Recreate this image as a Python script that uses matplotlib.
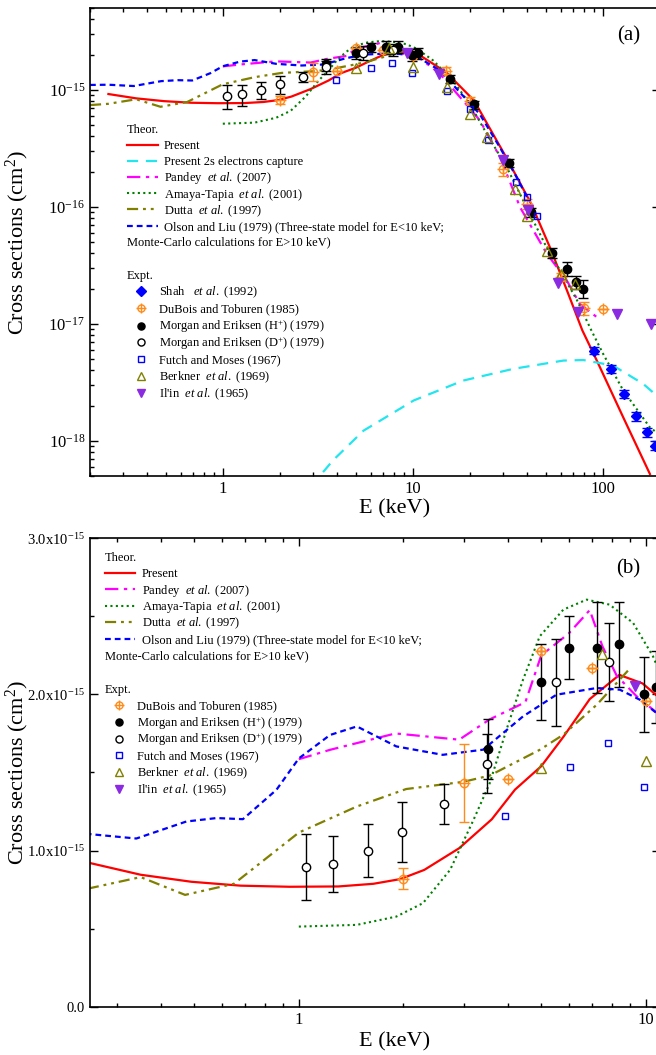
import numpy as np
import matplotlib
matplotlib.use('Agg')
import matplotlib.pyplot as plt
from matplotlib.ticker import MultipleLocator, FuncFormatter, NullFormatter

plt.rcParams['font.family'] = 'Liberation Serif'
plt.rcParams['mathtext.fontset'] = 'custom'
plt.rcParams['mathtext.rm'] = 'Liberation Serif'
plt.rcParams['mathtext.it'] = 'Liberation Serif:italic'
plt.rcParams['mathtext.bf'] = 'Liberation Serif:bold'

U = 1e-15  # cross sections below are in units of 1e-15 cm2

# theory (E in keV)
E_present = [0.25, 0.35, 0.49, 0.68, 0.94, 1.3, 1.64, 1.96, 2.3, 2.9, 3.6, 4.2, 5.0, 5.8, 6.9,
             8.4, 9.8, 10.8, 15, 21, 31, 42, 53, 65, 78, 93, 128, 177]
s_present = [0.92, 0.845, 0.80, 0.775, 0.768, 0.77, 0.787, 0.817, 0.876, 1.015, 1.2, 1.39, 1.54,
             1.73, 1.97, 2.125, 2.07, 1.99, 1.41, 0.81, 0.265, 0.106, 0.044, 0.019, 0.0088,
             0.00485, 0.00159, 0.00052]

E_2s = [3.37, 3.8, 5.5, 10.1, 18.4, 33.8, 62, 79, 113, 163, 200]
s_2s = [0.00054, 0.00068, 0.00122, 0.00221, 0.00327, 0.00412, 0.00485, 0.0049, 0.0044, 0.00307, 0.0023]

E_pandey = [1.0, 1.23, 1.9, 2.9, 3.55, 4.5, 5.0, 6.0, 6.9, 7.5, 8.25, 9.4, 10.8, 13.9, 22.5, 28.8,
            36.7, 50.6, 64.6, 75.6, 93]
s_pandey = [1.585, 1.645, 1.75, 1.71, 1.84, 1.95, 2.25, 2.39, 2.54, 2.31, 2.12, 1.99, 1.88, 1.37,
            0.55, 0.265, 0.099, 0.040, 0.0235, 0.0148, 0.0114]

E_amaya = [1.0, 1.47, 1.91, 2.28, 2.73, 3.19, 3.55, 3.97, 4.43, 4.95, 5.79, 6.76, 7.87, 9.2, 10.5,
           12.8, 16.4, 20, 24.5, 31.2, 39.7, 50.6, 60, 73, 87, 100, 128, 177, 200]
s_amaya = [0.513, 0.524, 0.577, 0.663, 0.876, 1.197, 1.43, 1.774, 2.094, 2.372, 2.543, 2.607, 2.575,
           2.458, 2.244, 1.78, 1.18, 0.75, 0.42, 0.218, 0.099, 0.045, 0.028, 0.016, 0.0088, 0.0056,
           0.0027, 0.0013, 0.00112]

E_dutta = [0.2, 0.25, 0.35, 0.47, 0.65, 1.0, 1.47, 2.04, 2.98, 3.55, 4.96, 5.79, 7.23, 9.0]
s_dutta = [0.74, 0.759, 0.83, 0.716, 0.787, 1.115, 1.282, 1.394, 1.44, 1.48, 1.646, 1.742, 1.934, 2.165]

E_olson = [0.2, 0.25, 0.34, 0.474, 0.579, 0.69, 0.862, 1.0, 1.23, 1.47, 1.91, 2.6, 3.4, 4.43, 5.53,
           7.23, 8.43, 9.62, 10.76, 13.9, 22.5, 28.8, 35.2, 40]
s_olson = [1.10, 1.105, 1.077, 1.186, 1.208, 1.201, 1.389, 1.59, 1.74, 1.795, 1.667, 1.613, 1.646,
           1.859, 1.998, 2.041, 2.03, 1.966, 1.88, 1.46, 0.62, 0.32, 0.179, 0.12]

# experiments
E_shah = [89.5, 110, 129, 150, 170, 188]
s_shah = [0.0059, 0.00412, 0.00251, 0.00162, 0.00118, 0.00091]
e_shah = [0.0004, 0.0003, 0.0002, 0.00013, 0.0001, 0.00008]

E_dubois = [2, 3, 4, 5, 7, 10, 15, 20, 30, 40, 60, 80, 100]
s_dubois = [0.82, 1.43, 1.46, 2.28, 2.17, 1.96, 1.46, 0.81, 0.21, 0.106, 0.025, 0.0137, 0.0134]
e_dubois = [0.067, 0.25, 0, 0, 0, 0, 0.1, 0.05, 0.025, 0.01, 0.002, 0.0018, 0]

E_morH = [3.5, 5.0, 6.0, 7.25, 8.4, 9.9, 10.7, 15.6, 21, 32, 42, 54, 65, 72, 79]
s_morH = [1.65, 2.08, 2.30, 2.30, 2.32, 2.00, 2.05, 1.24, 0.75, 0.238, 0.090, 0.0405, 0.0295,
          0.0227, 0.020]
e_morH = [0.19, 0.245, 0.2, 0.29, 0.27, 0.24, 0.23, 0.1, 0.06, 0.02, 0.008, 0.004, 0.004, 0.003, 0.0035]

E_morD = [1.05, 1.256, 1.585, 1.99, 2.63, 3.48, 5.5, 7.82]
s_morD = [0.893, 0.913, 1.0, 1.118, 1.297, 1.556, 2.077, 2.205]
e_morD = [0.21, 0.18, 0.17, 0.19, 0.13, 0.19, 0.28, 0.25]

E_futch = [3.92, 6.05, 7.8, 9.9, 15.1, 20, 25, 34.9, 40, 45]
s_futch = [1.222, 1.532, 1.688, 1.404, 0.97, 0.69, 0.37, 0.162, 0.122, 0.083]

E_berk = [5.0, 7.5, 10.0, 15.1, 20, 24.7, 34.5, 39.7, 50.6, 60, 71.4]
s_berk = [1.528, 2.259, 1.571, 1.05, 0.62, 0.394, 0.143, 0.084, 0.0417, 0.0267, 0.0217]

E_ilin = [9.33, 13.7, 30, 40.6, 58.3, 73.8, 119, 180]
s_ilin = [2.056, 1.37, 0.249, 0.093, 0.0222, 0.0126, 0.0122, 0.0099]

lab_theory = {
    'Present': 'Present',
    '2s': 'Present 2s electrons capture',
    'pandey': r'Pandey  $\it{et\ al.}$ (2007)',
    'amaya': r'Amaya-Tapia  $\it{et\ al.}$ (2001)',
    'dutta': r'Dutta  $\it{et\ al.}$ (1997)',
    'olson': 'Olson and Liu (1979) (Three-state model for E<10 keV;',
}
lab_expt = {
    'shah': r'Shah   $\it{et\ al.}$ (1992)',
    'dubois': 'DuBois and Toburen (1985)',
    'morH': r'Morgan and Eriksen (H$^{+}$) (1979)',
    'morD': r'Morgan and Eriksen (D$^{+}$) (1979)',
    'futch': 'Futch and Moses (1967)',
    'berk': r'Berkner  $\it{et\ al.}$ (1969)',
    'ilin': r"Il'in  $\it{et\ al.}$ (1965)",
}


def arr(v):
    return np.array(v) * U


def theory(ax, with_2s):
    h = {}
    h['Present'] = ax.plot(E_present, arr(s_present), color='red', lw=1.6)[0]
    if with_2s:
        h['2s'] = ax.plot(E_2s, arr(s_2s), color='#22e5ee', lw=1.6, ls=(0, (5, 3.5)))[0]
    h['pandey'] = ax.plot(E_pandey, arr(s_pandey), color='magenta', lw=1.6, ls=(0, (6, 2.5, 1.5, 2.5)))[0]
    h['amaya'] = ax.plot(E_amaya, arr(s_amaya), color='green', lw=1.5, ls=(0, (1, 1.6)))[0]
    h['dutta'] = ax.plot(E_dutta, arr(s_dutta), color='#808000', lw=1.6,
                         ls=(0, (5, 2.2, 1.3, 2.2, 1.3, 2.2)))[0]
    h['olson'] = ax.plot(E_olson, arr(s_olson), color='blue', lw=1.6, ls=(0, (2.6, 1.8)))[0]
    return h


def expt(ax, with_shah):
    h = {}
    eb = dict(fmt='none', elinewidth=1, capsize=3.5, capthick=1)
    if with_shah:
        ax.errorbar(E_shah, arr(s_shah), yerr=arr(e_shah), ecolor='blue', **eb)
        h['shah'] = ax.plot(E_shah, arr(s_shah), 'D', color='blue', ms=5.5, ls='none')[0]
    ax.errorbar(E_morH, arr(s_morH), yerr=arr(e_morH), ecolor='black', **eb)
    ax.errorbar(E_morD, arr(s_morD), yerr=arr(e_morD), ecolor='black', **eb)
    ax.errorbar(E_dubois, arr(s_dubois), yerr=arr(e_dubois), ecolor='#ff8c1a', **eb)
    d1 = ax.plot(E_dubois, arr(s_dubois), 'o', mec='#ff8c1a', mfc='none', mew=1, ms=6, ls='none')[0]
    d2 = ax.plot(E_dubois, arr(s_dubois), '+', color='#ff8c1a', mew=1, ms=8, ls='none')[0]
    h['dubois'] = (d1, d2)
    h['morH'] = ax.plot(E_morH, arr(s_morH), 'o', color='black', ms=6, ls='none')[0]
    h['morD'] = ax.plot(E_morD, arr(s_morD), 'o', mec='black', mfc='white', mew=1, ms=6, ls='none')[0]
    h['futch'] = ax.plot(E_futch, arr(s_futch), 's', mec='blue', mfc='none', mew=1, ms=5, ls='none')[0]
    h['berk'] = ax.plot(E_berk, arr(s_berk), '^', mec='#808000', mfc='none', mew=1, ms=6.5, ls='none')[0]
    h['ilin'] = ax.plot(E_ilin, arr(s_ilin), 'v', color='#8a2be2', ms=6.5, ls='none')[0]
    return h


def style(ax):
    ax.tick_params(which='both', direction='in', top=True, right=True, labelsize=12)
    ax.tick_params(which='major', length=6, width=1)
    ax.tick_params(which='minor', length=3, width=1)
    for s in ax.spines.values():
        s.set_linewidth(1.2)
    ax.xaxis.set_major_formatter(FuncFormatter(lambda v, p: f'{v:g}'))
    ax.xaxis.set_minor_formatter(NullFormatter())
    ax.yaxis.set_minor_formatter(NullFormatter())
    ax.set_xlabel('E (keV)', fontsize=16)
    ax.set_ylabel('Cross sections (cm$^2$)', fontsize=16)
    ax.yaxis.set_label_coords(-0.103, 0.5)


def legend_block(ax, title, handles, keys, labels, x, y_title, y0, pitch, **kw):
    # one legend per row so that mathtext labels do not change the row pitch
    ax.text(x, y_title, title, transform=ax.transAxes, fontsize=9, va='center')
    for i, k in enumerate(keys):
        leg = ax.legend([handles[k]], [labels[k]], loc='center left',
                        bbox_to_anchor=(x, y0 - i * pitch), frameon=False, fontsize=9,
                        borderpad=0, borderaxespad=0, **kw)
        ax.add_artist(leg)
    ax.legend_ = None  # already added as artist, avoid drawing the last one twice


th_kw = dict(handlelength=2.45, handletextpad=0.5)
ex_kw = dict(handlelength=2.3, handletextpad=0.25, markerscale=0.85)

fig = plt.figure(figsize=(6.56, 10.55), dpi=100)

# (a) log-log
ax = fig.add_axes([0.1372, 0.5488, 0.8689, 0.4436])
ax.set_xscale('log')
ax.set_yscale('log')
th = theory(ax, True)
ex = expt(ax, True)
ax.set_xlim(0.2, 200)
ax.set_ylim(5e-19, 5e-15)
ax.set_xticks([1, 10, 100])
ax.set_yticks([1e-18, 1e-17, 1e-16, 1e-15])
style(ax)
ax.xaxis.set_label_coords(0.535, -0.05)
ax.text(0.945, 0.94, '(a)', transform=ax.transAxes, fontsize=15, ha='center', va='center')

legend_block(ax, 'Theor.', th, ['Present', '2s', 'pandey', 'amaya', 'dutta', 'olson'], lab_theory,
             0.065, 0.7393, 0.7051, 0.03462, **th_kw)
ax.text(0.065, 0.4985, 'Monte-Carlo calculations for E>10 keV)', transform=ax.transAxes,
        fontsize=9, va='center')
legend_block(ax, 'Expt.', ex, ['shah', 'dubois', 'morH', 'morD', 'futch', 'berk', 'ilin'], lab_expt,
             0.065, 0.4274, 0.3917, 0.0361, **ex_kw)

# (b) log-linear
ax = fig.add_axes([0.1372, 0.0458, 0.8689, 0.444])
ax.set_xscale('log')
th = theory(ax, False)
ex = expt(ax, False)
ax.set_xlim(0.25, 11)
ax.set_ylim(0, 3e-15)
ax.set_xticks([1, 10])
ax.set_yticks([0, 1e-15, 2e-15, 3e-15])
ax.yaxis.set_minor_locator(MultipleLocator(0.5e-15))
style(ax)
ax.tick_params(axis='y', labelsize=10.5)
ax.yaxis.set_major_formatter(FuncFormatter(
    lambda v, p: '0.0' if v == 0 else f'{v / U:.1f}x10$^{{-15}}$'))
ax.xaxis.set_label_coords(0.535, -0.055)
ax.text(0.945, 0.935, '(b)', transform=ax.transAxes, fontsize=15, ha='center', va='center')

legend_block(ax, 'Theor.', th, ['Present', 'pandey', 'amaya', 'dutta', 'olson'], lab_theory,
             0.026, 0.9586, 0.9231, 0.0351, **th_kw)
ax.text(0.026, 0.7472, 'Monte-Carlo calculations for E>10 keV)', transform=ax.transAxes,
        fontsize=9, va='center')
legend_block(ax, 'Expt.', ex, ['dubois', 'morH', 'morD', 'futch', 'berk', 'ilin'], lab_expt,
             0.026, 0.6761, 0.6405, 0.0356, **ex_kw)

fig.savefig('out.png', dpi=100)
plt.close()
